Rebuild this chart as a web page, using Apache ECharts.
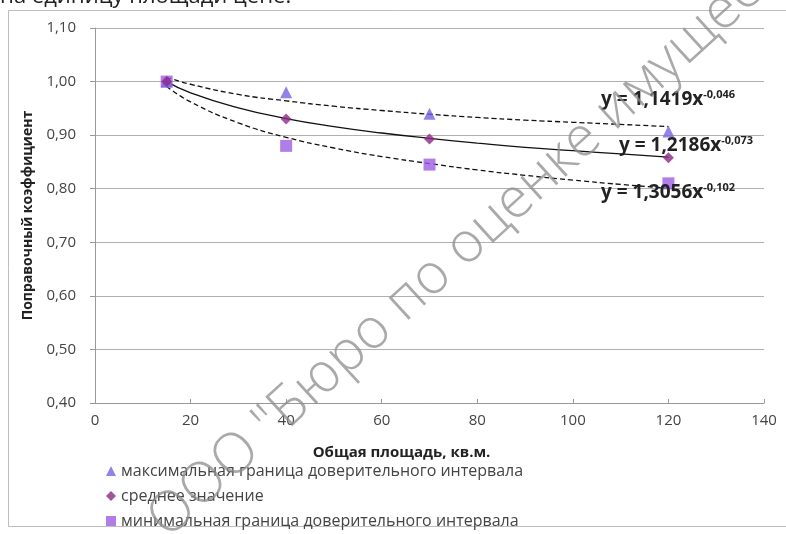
<!DOCTYPE html>
<html>
<head>
<meta charset="utf-8">
<style>
  html, body { margin: 0; padding: 0; background: #fff; }
  #chart { width: 786px; height: 534px; }
</style>
<script src="https://cdn.jsdelivr.net/npm/echarts@6/dist/echarts.min.js"></script>
</head>
<body>
<div id="chart"></div>
<script>
// точки (площадь, кв.м.)
const areas = [15, 40, 70, 120];
const maxValues = [1.00, 0.98, 0.94, 0.907];
const meanValues = [1.00, 0.93, 0.893, 0.858];
const minValues = [1.00, 0.88, 0.845, 0.81];

// линии тренда
const trendX = [15, 20, 30, 40, 50, 60, 70, 80, 90, 100, 110, 120];
const trendMax = [1.008, 0.995, 0.976, 0.964, 0.954, 0.946, 0.939, 0.933, 0.928, 0.924, 0.920, 0.916];
const trendMean = [1.000, 0.979, 0.951, 0.931, 0.916, 0.904, 0.894, 0.885, 0.877, 0.871, 0.865, 0.859];
const trendMin = [0.991, 0.962, 0.923, 0.896, 0.876, 0.860, 0.847, 0.835, 0.825, 0.816, 0.808, 0.801];

const seriesNames = [
  'максимальная граница доверительного интервала',
  'среднее значение',
  'минимальная граница доверительного интервала'
];
const equations = ['1,1419', '-0,046', '1,2186', '-0,073', '1,3056', '-0,102'];

const font = '"Open Sans", "Noto Sans", sans-serif';

function pairs(xs, ys) {
  return xs.map((x, i) => [x, ys[i]]);
}

function trend(ys, dashed) {
  return {
    type: 'line',
    data: pairs(trendX, ys),
    smooth: true,
    symbol: 'none',
    silent: true,
    lineStyle: { color: '#111', width: 1.3, type: dashed ? [5, 3] : 'solid' },
    z: 1
  };
}

function eqText(left, top, a, b) {
  return {
    type: 'text',
    left: left,
    top: top,
    z: 10,
    style: {
      text: '{b|y = ' + a + 'x}{s|' + b + '}',
      rich: {
        b: { fontFamily: font, fontWeight: 'bold', fontSize: 19, fill: '#222' },
        s: { fontFamily: font, fontWeight: 'bold', fontSize: 11, fill: '#222', padding: [0, 0, 11, 0] }
      }
    }
  };
}

const chart = echarts.init(document.getElementById('chart'));

chart.setOption({
  animation: false,
  grid: { left: 95, right: 22, top: 28, bottom: 131 },
  legend: {
    orient: 'vertical',
    left: 106,
    top: 463,
    padding: 0,
    itemGap: 9,
    itemWidth: 10,
    itemHeight: 10,
    data: seriesNames,
    textStyle: { fontFamily: font, fontSize: 16, color: '#444' }
  },
  xAxis: {
    type: 'value',
    min: 0,
    max: 140,
    interval: 20,
    name: 'Общая площадь, кв.м.',
    nameLocation: 'middle',
    nameGap: 42,
    nameTextStyle: {
      fontFamily: font, fontWeight: 'bold', fontSize: 15, color: '#222',
      padding: [0, 56, 0, 0]
    },
    axisLine: { lineStyle: { color: '#999' } },
    axisTick: { show: true, inside: true, length: 4, lineStyle: { color: '#999' } },
    axisLabel: { fontFamily: font, fontSize: 15, color: '#444', margin: 10 },
    splitLine: { show: false }
  },
  yAxis: {
    type: 'value',
    min: 0.4,
    max: 1.1,
    interval: 0.1,
    name: 'Поправочный коэффициент',
    nameLocation: 'middle',
    nameGap: 60,
    nameTextStyle: { fontFamily: font, fontWeight: 'bold', fontSize: 14, color: '#222' },
    axisLine: { show: true, lineStyle: { color: '#999' } },
    axisTick: { show: true, length: 5, lineStyle: { color: '#999' } },
    axisLabel: {
      fontFamily: font, fontSize: 15, color: '#444', margin: 19,
      formatter: v => v.toFixed(2).replace('.', ',')
    },
    splitLine: { lineStyle: { color: '#b0b0b0', width: 1.2 } }
  },
  series: [
    trend(trendMax, true),
    trend(trendMean, false),
    trend(trendMin, true),
    {
      name: seriesNames[0],
      type: 'scatter',
      data: pairs(areas, maxValues),
      symbol: 'triangle',
      symbolSize: 12,
      itemStyle: { color: '#7a63e2' },
      z: 3
    },
    {
      name: seriesNames[1],
      type: 'scatter',
      data: pairs(areas, meanValues),
      symbol: 'diamond',
      symbolSize: 11,
      itemStyle: { color: '#8b2a86' },
      z: 4
    },
    {
      name: seriesNames[2],
      type: 'scatter',
      data: pairs(areas, minValues),
      symbol: 'rect',
      symbolSize: 12,
      itemStyle: { color: '#9d5ee3' },
      z: 2
    }
  ],
  graphic: [
    {
      type: 'rect',
      shape: { x: 8.5, y: 10.5, width: 800, height: 516 },
      style: { fill: 'none', stroke: '#bdbdbd', lineWidth: 1 },
      silent: true
    },
    {
      type: 'text',
      x: 0,
      y: 8,
      style: {
        text: 'на единицу площади цене.',
        fontFamily: font, fontSize: 22, fill: '#222',
        textVerticalAlign: 'bottom'
      }
    },
    eqText(601, 89, equations[0], equations[1]),
    eqText(619, 135, equations[2], equations[3]),
    eqText(601, 182, equations[4], equations[5]),
    {
      type: 'text',
      x: 157,
      y: 528,
      rotation: 0.74,
      z: 20,
      silent: true,
      style: {
        text: 'ООО "Бюро по оценке имущества"',
        fontFamily: '"Open Sans", sans-serif',
        fontWeight: 300,
        fontSize: 56,
        fill: 'rgba(140,140,140,0.75)',
        textVerticalAlign: 'middle'
      }
    }
  ]
});
</script>
</body>
</html>
